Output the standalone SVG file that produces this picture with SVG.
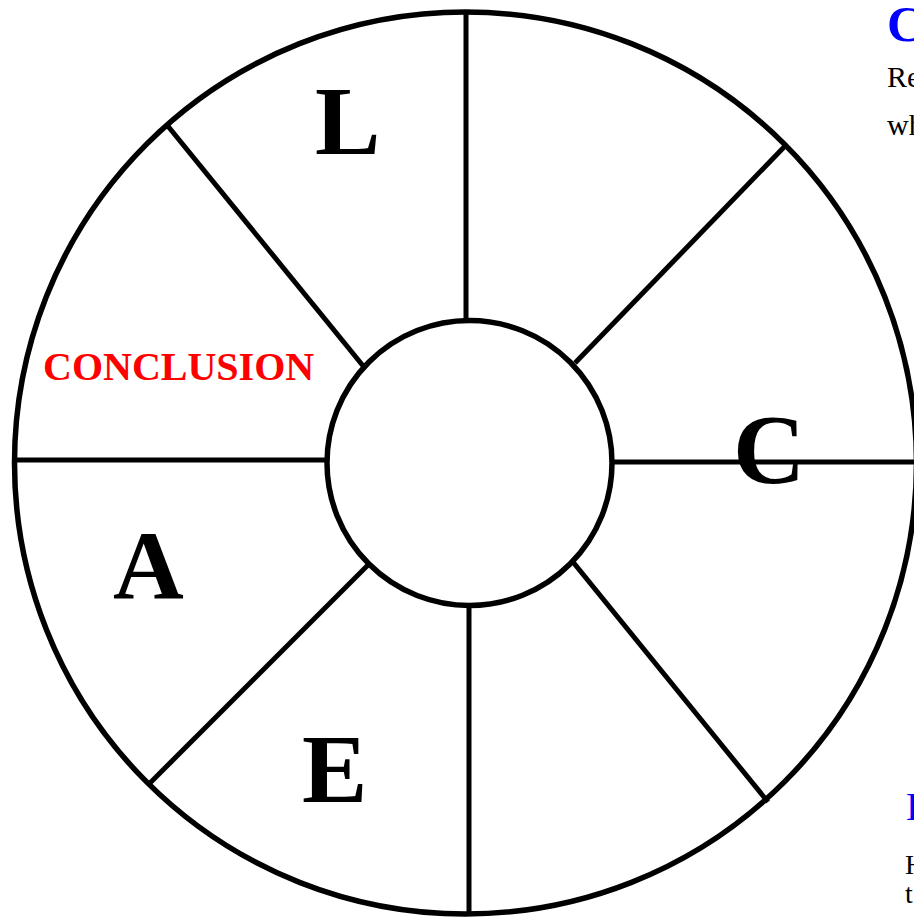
<svg xmlns="http://www.w3.org/2000/svg" width="914" height="918" viewBox="0 0 914 918">
<style>
.ring{fill:none;stroke:#000;stroke-width:5.5}
.hub{fill:#fff;stroke:#000;stroke-width:5.5}
.spoke{stroke:#000;stroke-width:5;stroke-linecap:butt}
.big{font-family:"Liberation Serif","Times New Roman",serif;font-weight:bold;font-size:98px;fill:#000}
.red{font-family:"Liberation Serif","Times New Roman",serif;font-weight:bold;font-size:40px;fill:#ff0000}
.body{font-family:"Liberation Serif","Times New Roman",serif;font-size:28px;fill:#000}
</style>
<rect width="914" height="918" fill="#fff"/>
<g id="outer-wheel">
<circle class="ring" cx="465.5" cy="463" r="451"/>
</g>
<g id="spokes">
<line class="spoke" x1="466" y1="12" x2="466" y2="321"/>
<line class="spoke" x1="786" y1="145" x2="575" y2="363"/>
<line class="spoke" x1="612" y1="462" x2="916" y2="462"/>
<line class="spoke" x1="573" y1="562" x2="768" y2="802"/>
<line class="spoke" x1="469" y1="605" x2="469" y2="916"/>
<line class="spoke" x1="368" y1="565" x2="148" y2="785"/>
<line class="spoke" x1="14" y1="460" x2="327" y2="460"/>
<line class="spoke" x1="167" y1="125" x2="364" y2="367"/>
</g>
<g id="hub">
<circle class="hub" cx="469.5" cy="463" r="142.5"/>
</g>
<g id="segment-L"><text class="big" x="315" y="154">L</text></g>
<g id="segment-C"><text class="big" x="733" y="483" style="font-size:100px">C</text></g>
<g id="segment-E"><text class="big" x="302" y="802">E</text></g>
<g id="segment-A"><text class="big" x="113" y="598">A</text></g>
<g id="segment-conclusion"><text class="red" x="43" y="380">CONCLUSION</text></g>
<g id="side-text-top">
<text x="887" y="41" style="font-family:'Liberation Serif','Times New Roman',serif;font-weight:bold;font-size:50px;fill:#0000ff">C</text>
<text class="body" x="887" y="87" style="font-size:30px">Re</text>
<text class="body" x="887" y="135" style="font-size:30px">wh</text>
</g>
<g id="side-text-bottom">
<text x="906" y="820" style="font-family:'Liberation Serif','Times New Roman',serif;font-size:40px;fill:#0000ff">D</text>
<text class="body" x="905" y="874" style="font-size:28px">H</text>
<text class="body" x="905" y="903" style="font-size:28px">t</text>
</g>
</svg>
